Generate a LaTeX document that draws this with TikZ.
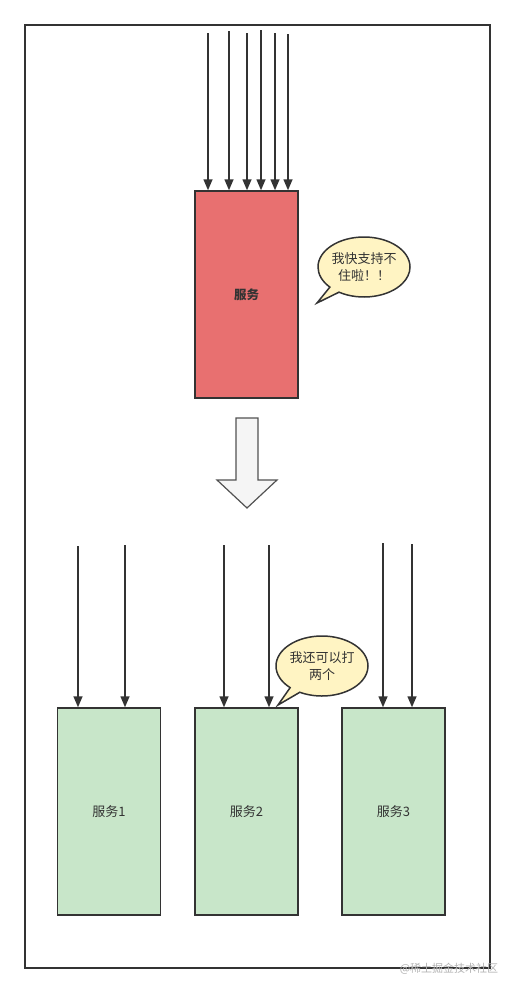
\documentclass[tikz,border=0pt]{standalone}
\usepackage{fontspec}
\newfontfamily\cjk{Noto Sans CJK SC}
\usetikzlibrary{arrows.meta,shapes.callouts}
\definecolor{svcred}{HTML}{E87070}
\definecolor{svcgreen}{HTML}{C8E6C9}
\definecolor{bubble}{HTML}{FFF4C3}
\definecolor{ink}{HTML}{333333}

\begin{document}
\begin{tikzpicture}
  [x=1pt,y=-1pt,line width=1.5pt,
   every node/.style={font=\cjk\fontsize{13}{16}\selectfont,text=ink},
   svc/.style={draw=ink,minimum width=103pt,minimum height=207pt,inner sep=0pt},
   req/.style={draw=ink,-{Triangle[length=11pt,width=9pt]}},
   talk/.style={ellipse callout,draw=ink,fill=bubble,align=center,
     font=\cjk\fontsize{13}{17}\selectfont,minimum width=92pt,minimum height=60pt,inner sep=0pt}]
  \useasboundingbox (0,0) rectangle (515,993);
  \draw[ink] (25,25) rectangle (490,968);

  % before: one service
  \node[svc,fill=svcred,font=\cjk\bfseries\fontsize{12.5}{16}\selectfont] (red) at (246.5,294.5) {服务};
  \foreach \i/\x/\y in {1/208/33,2/229/31,3/247/33,4/261/30,5/275/33,6/288/34} {
    \coordinate (t\i) at (\x,\y);
    \draw[req] (t\i) -- (t\i |- red.north);
  }
  \node[talk,callout absolute pointer={(317,303)}] (cry) at (364,267) {我快支持不\\住啦！！};

  % split
  \draw[line width=1.2pt,draw=ink!85,fill=black!4] (236,418) -- (258,418) -- (258,480) -- (277,480)
    -- (247,508) -- (217,480) -- (236,480) -- cycle;

  % after: three services
  \node[svc,fill=svcgreen] (s1) at (109,811.5) {服务1};
  \node[svc,fill=svcgreen] (s2) at (246.5,811.5) {服务2};
  \node[svc,fill=svcgreen] (s3) at (393.5,811.5) {服务3};
  \foreach \i/\s/\x/\y in {1/s1/78/546,2/s1/125/545,3/s2/224/545,4/s2/269/545,5/s3/383/543,6/s3/412/544} {
    \coordinate (b\i) at (\x,\y);
    \draw[req] (b\i) -- (b\i |- \s.north);
  }
  \node[talk,callout absolute pointer={(278,705)}] (brag) at (322,666) {我还可以打\\两个};

  \node[text=black!30,font=\cjk\fontsize{11}{13}\selectfont] (mark) at (449,969) {@稀土掘金技术社区};
\end{tikzpicture}
\end{document}
